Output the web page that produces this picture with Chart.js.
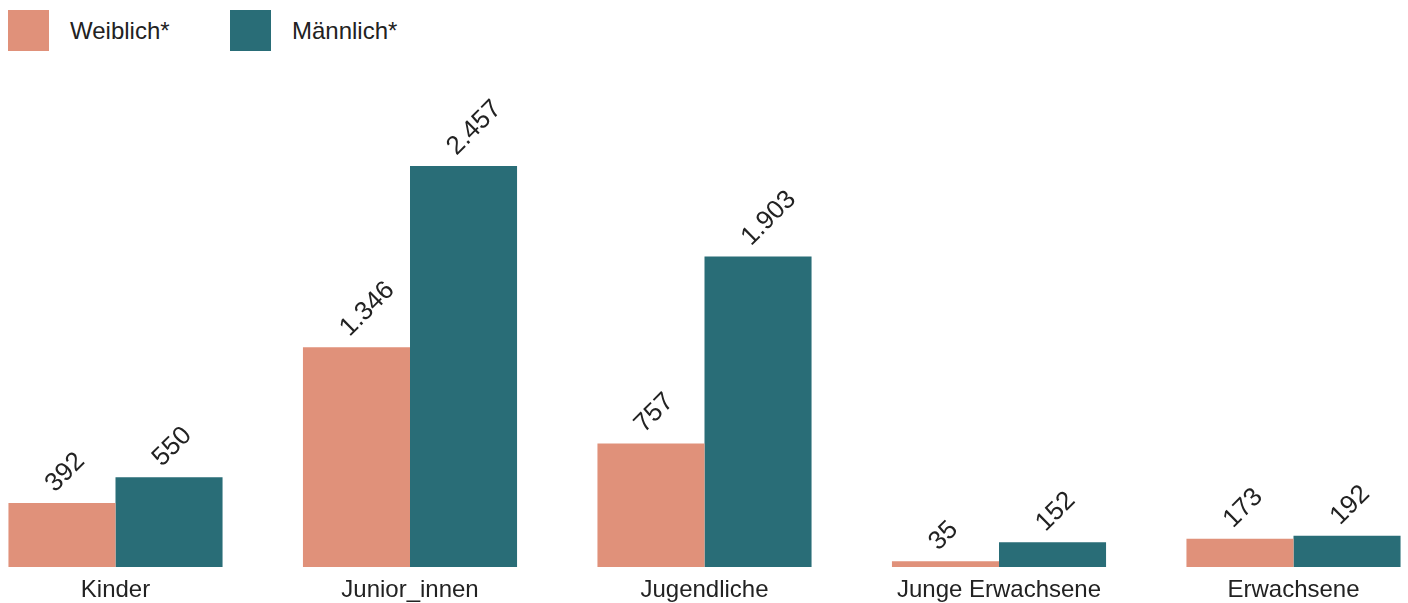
<!DOCTYPE html>
<html>
<head>
<meta charset="utf-8">
<script src="https://cdn.jsdelivr.net/npm/chart.js@4.4.1/dist/chart.umd.min.js"></script>
<style>
  html, body { margin: 0; padding: 0; background: #fff; overflow: hidden; }
  body { width: 1408px; height: 603px; position: relative; font-family: "Liberation Sans", Arial, Helvetica, sans-serif; }
  .chartBox { position: absolute; left: 0; top: 0; width: 1408px; height: 613px; }
  .legend-item { position: absolute; top: 10px; display: flex; align-items: center; height: 41px; }
  .swatch { width: 41px; height: 41px; }
  .legend-item span { margin-left: 21px; font-size: 24px; color: #222; }
</style>
</head>
<body>
<div id="legend"></div>
<div class="chartBox">
  <canvas id="chart" width="1408" height="613"></canvas>
</div>
<script>
const categories = ['Kinder', 'Junior_innen', 'Jugendliche', 'Junge Erwachsene', 'Erwachsene'];
const seriesNames = ['Weiblich*', 'Männlich*'];
const weiblich = [392, 1346, 757, 35, 173];
const maennlich = [550, 2457, 1903, 152, 192];

const colors = ['#E0917A', '#296D77'];
const fontFamily = '"Liberation Sans", Arial, Helvetica, sans-serif';

// german thousands separator: 2457 -> 2.457
const formatNumber = (v) => String(v).replace(/\B(?=(\d{3})+(?!\d))/g, '.');

// legend in html, positions
const legendLeft = [8, 230];
const legendEl = document.getElementById('legend');
seriesNames.forEach((name, i) => {
  const item = document.createElement('div');
  item.className = 'legend-item';
  item.style.left = legendLeft[i] + 'px';
  item.innerHTML = '<div class="swatch" style="background:' + colors[i] + '"></div><span>' + name + '</span>';
  legendEl.appendChild(item);
});

// rotated value labels above each bar
const valueLabels = {
  id: 'valueLabels',
  afterDatasetsDraw(chart) {
    const { ctx } = chart;
    ctx.save();
    ctx.font = '26px ' + fontFamily;
    ctx.fillStyle = '#222';
    ctx.textAlign = 'left';
    ctx.textBaseline = 'alphabetic';
    chart.data.datasets.forEach((ds, i) => {
      chart.getDatasetMeta(i).data.forEach((bar, j) => {
        ctx.save();
        ctx.translate(bar.x - 7, bar.y - 10);
        ctx.rotate(-Math.PI / 4);
        ctx.fillText(formatNumber(ds.data[j]), 0, 0);
        ctx.restore();
      });
    });
    ctx.restore();
  }
};

const ctx = document.getElementById('chart').getContext('2d');

new Chart(ctx, {
  type: 'bar',
  data: {
    labels: categories,
    datasets: [
      { label: seriesNames[0], data: weiblich, backgroundColor: colors[0] },
      { label: seriesNames[1], data: maennlich, backgroundColor: colors[1] },
    ].map(ds => Object.assign(ds, {
      borderWidth: 0,
      categoryPercentage: 0.727,
      barPercentage: 1,
      clip: false,
    })),
  },
  options: {
    responsive: false,
    devicePixelRatio: 1,
    animation: false,
    layout: {
      padding: { left: 115.5, right: 114.5, top: 77.4, bottom: 0 },
    },
    plugins: {
      legend: { display: false },
      tooltip: { enabled: false },
    },
    scales: {
      x: {
        offset: false,
        grid: { display: false, drawTicks: false },
        border: { display: false },
        ticks: {
          padding: 8.6,
          color: '#222',
          autoSkip: false,
          maxRotation: 0,
          font: { size: 24, family: fontFamily },
        },
      },
      y: {
        display: false,
        min: 0,
        max: 3000,
      },
    },
  },
  plugins: [valueLabels],
});
</script>
</body>
</html>
